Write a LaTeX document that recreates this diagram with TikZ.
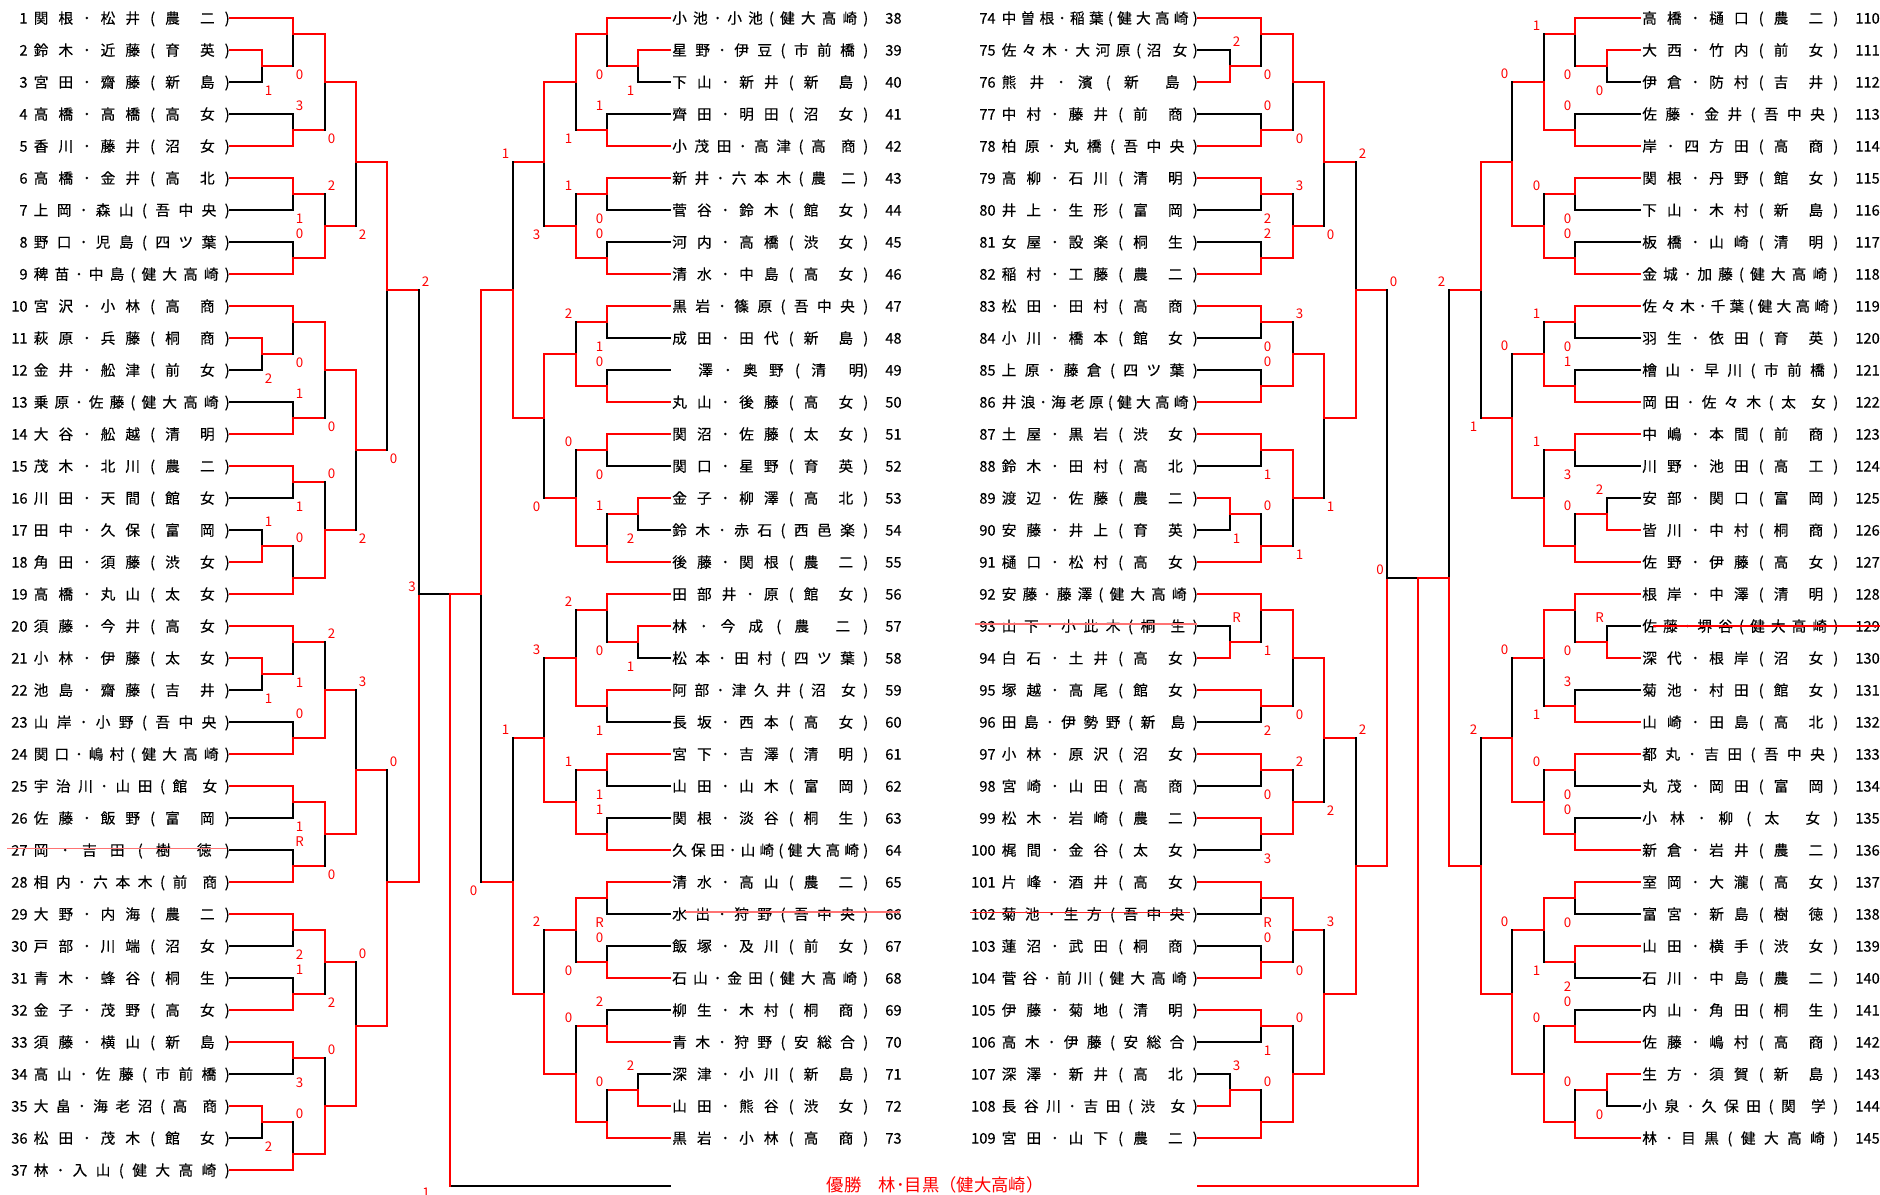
\documentclass[tikz,border=0pt]{standalone}
\usepackage{fontspec}
\newfontfamily\jp[FakeBold=0.3]{Noto Sans CJK JP}
\newfontfamily\jpl{Noto Sans CJK JP}
\makeatletter
\def\nm@end{\@nil}
\def\nm@sp{　}
\newcommand\nm[1]{\hbox to 147pt{\nm@a#1\@nil}}
\def\nm@a#1{#1\nm@b}
\def\nm@b#1{\def\nm@cur{#1}%
  \ifx\nm@cur\nm@end\else
    \hfill\ifx\nm@cur\nm@sp\else#1\fi
    \expandafter\nm@b
  \fi}
\makeatother
\newcommand\nb[1]{\makebox[20pt][r]{#1}\hspace{4.6pt}}
\newcommand\na[1]{\hspace{12.8pt}\makebox[20pt][l]{#1}}
\newcounter{sc}
\tikzset{
  winner/.style={draw=red, line width=2pt, line cap=rect},
  loser/.style={draw=black, line width=0.8pt, line cap=rect},
  lab/.style={text=red, font=\jpl\fontsize{10}{12}\selectfont, inner sep=0pt},
  ent/.style={font=\jp\fontsize{11}{13}\selectfont, inner sep=0pt, text height=9.7pt, text depth=1.3pt},
  champ/.style={text=red, font=\jpl\fontsize{13}{15}\selectfont, inner sep=0pt},
  strike/.style={draw=red!55, line width=1pt},
}
% entry, bracket to the right: anchor x, number, row, first level, style, name
\newcommand\ea[6]{\node[ent,anchor=east] (e#2) at (#1,#3) {\nb{#2}\nm{#6}\hspace{.8pt}};
  \draw[#5] (e#2.east) -- (#4,#3);}
% entry, bracket to the left
\newcommand\eb[6]{\node[ent,anchor=west] (e#2) at (#1,#3) {\hspace{1.5pt}\nm{#6}\na{#2}};
  \draw[#5] (e#2.west) -- (#4,#3);}
% match: [out style] level x, next x, top, bottom, out, winner t/b, score
\newcommand\mr[8][winner]{\stepcounter{sc}%
  \if#7t
    \draw[loser] (#2,#5) -- (#2,#6);
    \draw[winner] (#2,#4) -- (#2,#6);
    \node[lab] (s\thesc) at ({#2+6.5},{#5+0.53}) {#8};
  \else
    \draw[loser] (#2,#4) -- (#2,#6);
    \draw[winner] (#2,#5) -- (#2,#6);
    \node[lab] (s\thesc) at ({#2+6.5},{#4-0.5}) {#8};
  \fi
  \draw[#1] (#2,#6) -- (#3,#6);}
\newcommand\ml[8][winner]{\stepcounter{sc}%
  \if#7t
    \draw[loser] (#2,#5) -- (#2,#6);
    \draw[winner] (#2,#4) -- (#2,#6);
    \node[lab] (s\thesc) at ({#2-7.5},{#5+0.53}) {#8};
  \else
    \draw[loser] (#2,#4) -- (#2,#6);
    \draw[winner] (#2,#5) -- (#2,#6);
    \node[lab] (s\thesc) at ({#2-7.5},{#4-0.5}) {#8};
  \fi
  \draw[#1] (#2,#6) -- (#3,#6);}
\begin{document}
\begin{tikzpicture}[x=0.75pt,y=-12pt]
\path[use as bounding box, fill=white] (0,-1.125) rectangle (1880,73.5625);

\ea{230}{1}{0}{293}{winner}{関根･松井(農　二)}
\ea{230}{2}{2}{262}{winner}{鈴木･近藤(育　英)}
\ea{230}{3}{4}{262}{loser}{宮田･齋藤(新　島)}
\ea{230}{4}{6}{293}{loser}{高橋･高橋(高　女)}
\ea{230}{5}{8}{293}{winner}{香川･藤井(沼　女)}
\ea{230}{6}{10}{293}{winner}{高橋･金井(高　北)}
\ea{230}{7}{12}{293}{loser}{上岡･森山(吾中央)}
\ea{230}{8}{14}{293}{loser}{野口･児島(四ツ葉)}
\ea{230}{9}{16}{293}{winner}{稗苗･中島(健大高崎)}
\ea{230}{10}{18}{293}{winner}{宮沢･小林(高　商)}
\ea{230}{11}{20}{262}{winner}{萩原･兵藤(桐　商)}
\ea{230}{12}{22}{262}{loser}{金井･舩津(前　女)}
\ea{230}{13}{24}{293}{loser}{乗原･佐藤(健大高崎)}
\ea{230}{14}{26}{293}{winner}{大谷･舩越(清　明)}
\ea{230}{15}{28}{293}{winner}{茂木･北川(農　二)}
\ea{230}{16}{30}{293}{loser}{川田･天間(館　女)}
\ea{230}{17}{32}{262}{loser}{田中･久保(富　岡)}
\ea{230}{18}{34}{262}{winner}{角田･須藤(渋　女)}
\ea{230}{19}{36}{293}{winner}{高橋･丸山(太　女)}
\ea{230}{20}{38}{293}{winner}{須藤･今井(高　女)}
\ea{230}{21}{40}{262}{winner}{小林･伊藤(太　女)}
\ea{230}{22}{42}{262}{loser}{池島･齋藤(吉　井)}
\ea{230}{23}{44}{293}{loser}{山岸･小野(吾中央)}
\ea{230}{24}{46}{293}{winner}{関口･嶋村(健大高崎)}
\ea{230}{25}{48}{293}{winner}{宇治川･山田(館　女)}
\ea{230}{26}{50}{293}{loser}{佐藤･飯野(富　岡)}
\ea{230}{27}{52}{293}{loser}{岡･吉田(樹　徳)}
\ea{230}{28}{54}{293}{winner}{相内･六本木(前　商)}
\ea{230}{29}{56}{293}{winner}{大野･内海(農　二)}
\ea{230}{30}{58}{293}{loser}{戸部･川端(沼　女)}
\ea{230}{31}{60}{293}{loser}{青木･蜂谷(桐　生)}
\ea{230}{32}{62}{293}{winner}{金子･茂野(高　女)}
\ea{230}{33}{64}{293}{winner}{須藤･横山(新　島)}
\ea{230}{34}{66}{293}{loser}{高山･佐藤(市前橋)}
\ea{230}{35}{68}{262}{winner}{大畠･海老沼(高　商)}
\ea{230}{36}{70}{262}{loser}{松田･茂木(館　女)}
\ea{230}{37}{72}{293}{winner}{林･入山(健大高崎)}

\mr{262}{293}{2}{4}{3}{t}{1}
\mr{293}{325}{0}{3}{1}{t}{0}
\mr{293}{325}{6}{8}{7}{b}{3}
\mr{325}{356}{1}{7}{4}{t}{0}
\mr{293}{325}{10}{12}{11}{t}{1}
\mr{293}{325}{14}{16}{15}{b}{0}
\mr{325}{356}{11}{15}{13}{b}{2}
\mr{356}{387}{4}{13}{9}{t}{2}
\mr{262}{293}{20}{22}{21}{t}{2}
\mr{293}{325}{18}{21}{19}{t}{0}
\mr{293}{325}{24}{26}{25}{b}{1}
\mr{325}{356}{19}{25}{22}{t}{0}
\mr{293}{325}{28}{30}{29}{t}{1}
\mr{262}{293}{32}{34}{33}{b}{1}
\mr{293}{325}{33}{36}{35}{b}{0}
\mr{325}{356}{29}{35}{32}{b}{0}
\mr{356}{387}{22}{32}{27}{t}{2}
\mr{387}{419}{9}{27}{17}{t}{0}
\mr{262}{293}{40}{42}{41}{t}{1}
\mr{293}{325}{38}{41}{39}{t}{1}
\mr{293}{325}{44}{46}{45}{b}{0}
\mr{325}{356}{39}{45}{42}{b}{2}
\mr{293}{325}{48}{50}{49}{t}{1}
\mr{293}{325}{52}{54}{53}{b}{R}
\mr{325}{356}{49}{53}{51}{t}{0}
\mr{356}{387}{42}{51}{47}{b}{3}
\mr{293}{325}{56}{58}{57}{t}{2}
\mr{293}{325}{60}{62}{61}{b}{1}
\mr{325}{356}{57}{61}{59}{t}{2}
\mr{293}{325}{64}{66}{65}{t}{3}
\mr{262}{293}{68}{70}{69}{t}{2}
\mr{293}{325}{69}{72}{71}{b}{0}
\mr{325}{356}{65}{71}{68}{b}{0}
\mr{356}{387}{59}{68}{63}{b}{0}
\mr{387}{419}{47}{63}{54}{b}{0}
\mr[loser]{419}{450}{17}{54}{36}{b}{2}

\eb{670}{38}{0}{607}{winner}{小池･小池(健大高崎)}
\eb{670}{39}{2}{638}{winner}{星野･伊豆(市前橋)}
\eb{670}{40}{4}{638}{loser}{下山･新井(新　島)}
\eb{670}{41}{6}{607}{loser}{齊田･明田(沼　女)}
\eb{670}{42}{8}{607}{winner}{小茂田･高津(高　商)}
\eb{670}{43}{10}{607}{winner}{新井･六本木(農　二)}
\eb{670}{44}{12}{607}{loser}{菅谷･鈴木(館　女)}
\eb{670}{45}{14}{607}{loser}{河内･高橋(渋　女)}
\eb{670}{46}{16}{607}{winner}{清水･中島(高　女)}
\eb{670}{47}{18}{607}{winner}{黒岩･篠原(吾中央)}
\eb{670}{48}{20}{607}{loser}{成田･田代(新　島)}
\eb{670}{49}{22}{607}{loser}{{\phantom{澤}}澤･奥野(清　{明)}}
\eb{670}{50}{24}{607}{winner}{丸山･後藤(高　女)}
\eb{670}{51}{26}{607}{winner}{関沼･佐藤(太　女)}
\eb{670}{52}{28}{607}{loser}{関口･星野(育　英)}
\eb{670}{53}{30}{638}{winner}{金子･柳澤(高　北)}
\eb{670}{54}{32}{638}{loser}{鈴木･赤石(西邑楽)}
\eb{670}{55}{34}{607}{winner}{後藤･関根(農　二)}
\eb{670}{56}{36}{607}{winner}{田部井･原(館　女)}
\eb{670}{57}{38}{638}{winner}{林･今成(農　二)}
\eb{670}{58}{40}{638}{loser}{松本･田村(四ツ葉)}
\eb{670}{59}{42}{607}{winner}{阿部･津久井(沼　女)}
\eb{670}{60}{44}{607}{loser}{長坂･西本(高　女)}
\eb{670}{61}{46}{607}{winner}{宮下･吉澤(清　明)}
\eb{670}{62}{48}{607}{loser}{山田･山木(富　岡)}
\eb{670}{63}{50}{607}{loser}{関根･淡谷(桐　生)}
\eb{670}{64}{52}{607}{winner}{久保田･山崎(健大高崎)}
\eb{670}{65}{54}{607}{winner}{清水･高山(農　二)}
\eb{670}{66}{56}{607}{loser}{水出･狩野(吾中央)}
\eb{670}{67}{58}{607}{loser}{飯塚･及川(前　女)}
\eb{670}{68}{60}{607}{winner}{石山･金田(健大高崎)}
\eb{670}{69}{62}{607}{loser}{柳生･木村(桐　商)}
\eb{670}{70}{64}{607}{winner}{青木･狩野(安総合)}
\eb{670}{71}{66}{638}{loser}{深津･小川(新　島)}
\eb{670}{72}{68}{638}{winner}{山田･熊谷(渋　女)}
\eb{670}{73}{70}{607}{winner}{黒岩･小林(高　商)}

\ml{638}{607}{2}{4}{3}{t}{1}
\ml{607}{576}{0}{3}{1}{t}{0}
\ml{607}{576}{6}{8}{7}{b}{1}
\ml{576}{544}{1}{7}{4}{t}{1}
\ml{607}{576}{10}{12}{11}{t}{0}
\ml{607}{576}{14}{16}{15}{b}{0}
\ml{576}{544}{11}{15}{13}{b}{1}
\ml{544}{513}{4}{13}{9}{t}{3}
\ml{607}{576}{18}{20}{19}{t}{1}
\ml{607}{576}{22}{24}{23}{b}{0}
\ml{576}{544}{19}{23}{21}{b}{2}
\ml{607}{576}{26}{28}{27}{t}{0}
\ml{638}{607}{30}{32}{31}{t}{2}
\ml{607}{576}{31}{34}{33}{b}{1}
\ml{576}{544}{27}{33}{30}{b}{0}
\ml{544}{513}{21}{30}{25}{t}{0}
\ml{513}{481}{9}{25}{17}{b}{1}
\ml{638}{607}{38}{40}{39}{t}{1}
\ml{607}{576}{36}{39}{37}{t}{0}
\ml{607}{576}{42}{44}{43}{t}{1}
\ml{576}{544}{37}{43}{40}{b}{2}
\ml{607}{576}{46}{48}{47}{t}{1}
\ml{607}{576}{50}{52}{51}{b}{1}
\ml{576}{544}{47}{51}{49}{b}{1}
\ml{544}{513}{40}{49}{45}{b}{3}
\ml{607}{576}{54}{56}{55}{t}{R}
\ml{607}{576}{58}{60}{59}{b}{0}
\ml{576}{544}{55}{59}{57}{t}{0}
\ml{607}{576}{62}{64}{63}{b}{2}
\ml{638}{607}{66}{68}{67}{b}{2}
\ml{607}{576}{67}{70}{69}{b}{0}
\ml{576}{544}{63}{69}{66}{b}{0}
\ml{544}{513}{57}{66}{61}{b}{2}
\ml{513}{481}{45}{61}{54}{b}{1}
\ml{481}{450}{17}{54}{36}{t}{0}

\ea{1198}{74}{0}{1261}{winner}{中曽根･稲葉(健大高崎)}
\ea{1198}{75}{2}{1230}{loser}{佐々木･大河原(沼　女)}
\ea{1198}{76}{4}{1230}{winner}{熊井･濱(新　島)}
\ea{1198}{77}{6}{1261}{loser}{中村･藤井(前　商)}
\ea{1198}{78}{8}{1261}{winner}{柏原･丸橋(吾中央)}
\ea{1198}{79}{10}{1261}{winner}{高柳･石川(清　明)}
\ea{1198}{80}{12}{1261}{loser}{井上･生形(富　岡)}
\ea{1198}{81}{14}{1261}{loser}{女屋･設楽(桐　生)}
\ea{1198}{82}{16}{1261}{winner}{稲村･工藤(農　二)}
\ea{1198}{83}{18}{1261}{winner}{松田･田村(高　商)}
\ea{1198}{84}{20}{1261}{loser}{小川･橋本(館　女)}
\ea{1198}{85}{22}{1261}{loser}{上原･藤倉(四ツ葉)}
\ea{1198}{86}{24}{1261}{winner}{井浪･海老原(健大高崎)}
\ea{1198}{87}{26}{1261}{winner}{土屋･黒岩(渋　女)}
\ea{1198}{88}{28}{1261}{loser}{鈴木･田村(高　北)}
\ea{1198}{89}{30}{1230}{winner}{渡辺･佐藤(農　二)}
\ea{1198}{90}{32}{1230}{loser}{安藤･井上(育　英)}
\ea{1198}{91}{34}{1261}{winner}{樋口･松村(高　女)}
\ea{1198}{92}{36}{1261}{winner}{安藤･藤澤(健大高崎)}
\ea{1198}{93}{38}{1230}{loser}{山下･小此木(桐　生)}
\ea{1198}{94}{40}{1230}{winner}{白石･土井(高　女)}
\ea{1198}{95}{42}{1261}{winner}{塚越･高尾(館　女)}
\ea{1198}{96}{44}{1261}{loser}{田島･伊勢野(新　島)}
\ea{1198}{97}{46}{1261}{winner}{小林･原沢(沼　女)}
\ea{1198}{98}{48}{1261}{loser}{宮崎･山田(高　商)}
\ea{1198}{99}{50}{1261}{winner}{松木･岩崎(農　二)}
\ea{1198}{100}{52}{1261}{loser}{梶間･金谷(太　女)}
\ea{1198}{101}{54}{1261}{winner}{片峰･酒井(高　女)}
\ea{1198}{102}{56}{1261}{loser}{菊池･生方(吾中央)}
\ea{1198}{103}{58}{1261}{loser}{蓮沼･武田(桐　商)}
\ea{1198}{104}{60}{1261}{winner}{菅谷･前川(健大高崎)}
\ea{1198}{105}{62}{1261}{winner}{伊藤･菊地(清　明)}
\ea{1198}{106}{64}{1261}{loser}{高木･伊藤(安総合)}
\ea{1198}{107}{66}{1230}{loser}{深澤･新井(高　北)}
\ea{1198}{108}{68}{1230}{winner}{長谷川･吉田(渋　女)}
\ea{1198}{109}{70}{1261}{winner}{宮田･山下(農　二)}

\mr{1230}{1261}{2}{4}{3}{b}{2}
\mr{1261}{1293}{0}{3}{1}{t}{0}
\mr{1261}{1293}{6}{8}{7}{b}{0}
\mr{1293}{1324}{1}{7}{4}{t}{0}
\mr{1261}{1293}{10}{12}{11}{t}{2}
\mr{1261}{1293}{14}{16}{15}{b}{2}
\mr{1293}{1324}{11}{15}{13}{b}{3}
\mr{1324}{1356}{4}{13}{9}{t}{0}
\mr{1261}{1293}{18}{20}{19}{t}{0}
\mr{1261}{1293}{22}{24}{23}{b}{0}
\mr{1293}{1324}{19}{23}{21}{b}{3}
\mr{1261}{1293}{26}{28}{27}{t}{1}
\mr{1230}{1261}{30}{32}{31}{t}{1}
\mr{1261}{1293}{31}{34}{33}{b}{0}
\mr{1293}{1324}{27}{33}{30}{t}{1}
\mr{1324}{1356}{21}{30}{25}{t}{1}
\mr{1356}{1387}{9}{25}{17}{b}{2}
\mr{1230}{1261}{38}{40}{39}{b}{R}
\mr{1261}{1293}{36}{39}{37}{t}{1}
\mr{1261}{1293}{42}{44}{43}{t}{2}
\mr{1293}{1324}{37}{43}{40}{t}{0}
\mr{1261}{1293}{46}{48}{47}{t}{0}
\mr{1261}{1293}{50}{52}{51}{t}{3}
\mr{1293}{1324}{47}{51}{49}{b}{2}
\mr{1324}{1356}{40}{49}{45}{t}{2}
\mr{1261}{1293}{54}{56}{55}{t}{R}
\mr{1261}{1293}{58}{60}{59}{b}{0}
\mr{1293}{1324}{55}{59}{57}{t}{0}
\mr{1261}{1293}{62}{64}{63}{t}{1}
\mr{1230}{1261}{66}{68}{67}{b}{3}
\mr{1261}{1293}{67}{70}{69}{b}{0}
\mr{1293}{1324}{63}{69}{66}{b}{0}
\mr{1324}{1356}{57}{66}{61}{b}{3}
\mr{1356}{1387}{45}{61}{53}{b}{2}
\mr[loser]{1387}{1418}{17}{53}{35}{b}{0}

\eb{1640}{110}{0}{1575}{winner}{高橋･樋口(農　二)}
\eb{1640}{111}{2}{1607}{winner}{大西･竹内(前　女)}
\eb{1640}{112}{4}{1607}{loser}{伊倉･防村(吉　井)}
\eb{1640}{113}{6}{1575}{loser}{佐藤･金井(吾中央)}
\eb{1640}{114}{8}{1575}{winner}{岸･四方田(高　商)}
\eb{1640}{115}{10}{1575}{winner}{関根･丹野(館　女)}
\eb{1640}{116}{12}{1575}{loser}{下山･木村(新　島)}
\eb{1640}{117}{14}{1575}{loser}{板橋･山崎(清　明)}
\eb{1640}{118}{16}{1575}{winner}{金城･加藤(健大高崎)}
\eb{1640}{119}{18}{1575}{winner}{佐々木･千葉(健大高崎)}
\eb{1640}{120}{20}{1575}{loser}{羽生･依田(育　英)}
\eb{1640}{121}{22}{1575}{loser}{檜山･早川(市前橋)}
\eb{1640}{122}{24}{1575}{winner}{岡田･佐々木(太　女)}
\eb{1640}{123}{26}{1575}{winner}{中嶋･本間(前　商)}
\eb{1640}{124}{28}{1575}{loser}{川野･池田(高　工)}
\eb{1640}{125}{30}{1607}{loser}{安部･関口(富　岡)}
\eb{1640}{126}{32}{1607}{winner}{皆川･中村(桐　商)}
\eb{1640}{127}{34}{1575}{winner}{佐野･伊藤(高　女)}
\eb{1640}{128}{36}{1575}{winner}{根岸･中澤(清　明)}
\eb{1640}{129}{38}{1607}{loser}{佐藤･堺谷(健大高崎)}
\eb{1640}{130}{40}{1607}{winner}{深代･根岸(沼　女)}
\eb{1640}{131}{42}{1575}{loser}{菊池･村田(館　女)}
\eb{1640}{132}{44}{1575}{winner}{山崎･田島(高　北)}
\eb{1640}{133}{46}{1575}{winner}{都丸･吉田(吾中央)}
\eb{1640}{134}{48}{1575}{loser}{丸茂･岡田(富　岡)}
\eb{1640}{135}{50}{1575}{loser}{小林･柳(太　女)}
\eb{1640}{136}{52}{1575}{winner}{新倉･岩井(農　二)}
\eb{1640}{137}{54}{1575}{winner}{室岡･大瀧(高　女)}
\eb{1640}{138}{56}{1575}{loser}{富宮･新島(樹　徳)}
\eb{1640}{139}{58}{1575}{winner}{山田･横手(渋　女)}
\eb{1640}{140}{60}{1575}{loser}{石川･中島(農　二)}
\eb{1640}{141}{62}{1575}{loser}{内山･角田(桐　生)}
\eb{1640}{142}{64}{1575}{winner}{佐藤･嶋村(高　商)}
\eb{1640}{143}{66}{1607}{winner}{生方･須賀(新　島)}
\eb{1640}{144}{68}{1607}{loser}{小泉･久保田(関　学)}
\eb{1640}{145}{70}{1575}{winner}{林･目黒(健大高崎)}

\ml{1607}{1575}{2}{4}{3}{t}{0}
\ml{1575}{1544}{0}{3}{1}{t}{0}
\ml{1575}{1544}{6}{8}{7}{b}{0}
\ml{1544}{1512}{1}{7}{4}{b}{1}
\ml{1575}{1544}{10}{12}{11}{t}{0}
\ml{1575}{1544}{14}{16}{15}{b}{0}
\ml{1544}{1512}{11}{15}{13}{b}{0}
\ml{1512}{1481}{4}{13}{9}{b}{0}
\ml{1575}{1544}{18}{20}{19}{t}{0}
\ml{1575}{1544}{22}{24}{23}{b}{1}
\ml{1544}{1512}{19}{23}{21}{b}{1}
\ml{1575}{1544}{26}{28}{27}{t}{3}
\ml{1607}{1575}{30}{32}{31}{b}{2}
\ml{1575}{1544}{31}{34}{33}{b}{0}
\ml{1544}{1512}{27}{33}{30}{b}{1}
\ml{1512}{1481}{21}{30}{25}{b}{0}
\ml{1481}{1449}{9}{25}{17}{t}{1}
\ml{1607}{1575}{38}{40}{39}{b}{R}
\ml{1575}{1544}{36}{39}{37}{t}{0}
\ml{1575}{1544}{42}{44}{43}{b}{3}
\ml{1544}{1512}{37}{43}{40}{t}{1}
\ml{1575}{1544}{46}{48}{47}{t}{0}
\ml{1575}{1544}{50}{52}{51}{b}{0}
\ml{1544}{1512}{47}{51}{49}{b}{0}
\ml{1512}{1481}{40}{49}{45}{b}{0}
\ml{1575}{1544}{54}{56}{55}{t}{0}
\ml{1575}{1544}{58}{60}{59}{t}{2}
\ml{1544}{1512}{55}{59}{57}{t}{1}
\ml{1575}{1544}{62}{64}{63}{b}{0}
\ml{1607}{1575}{66}{68}{67}{t}{0}
\ml{1575}{1544}{67}{70}{69}{b}{0}
\ml{1544}{1512}{63}{69}{66}{b}{0}
\ml{1512}{1481}{57}{66}{61}{b}{0}
\ml{1481}{1449}{45}{61}{53}{b}{2}
\ml{1449}{1418}{17}{53}{35}{b}{2}

\coordinate (fl) at (450,73);
\coordinate (fr) at (1418,73);
\draw[loser] (fl) -- (670,73);
\draw[winner] (450,36) -- (fl);
\draw[winner] (1418,35) -- (fr) -- (1198,73);
\node[lab] (sl) at (412,35.56) {3};
\node[lab] (sr) at (1380,34.5) {0};
\node[lab] (sf) at (426,73.44) {1};
\node[champ] (champ) at (935,72.9) {優勝　林･目黒（健大高崎）};

\draw[strike] (7,51.9) -- (227,51.9);
\draw[strike] (685,55.87) -- (900,55.87);
\draw[strike] (975,37.87) -- (1197,37.87);
\draw[strike, draw=red!85] (970,55.9) -- (1190,55.9);
\draw[strike, draw=red] (1653,38) -- (1880,38);
\end{tikzpicture}
\end{document}
